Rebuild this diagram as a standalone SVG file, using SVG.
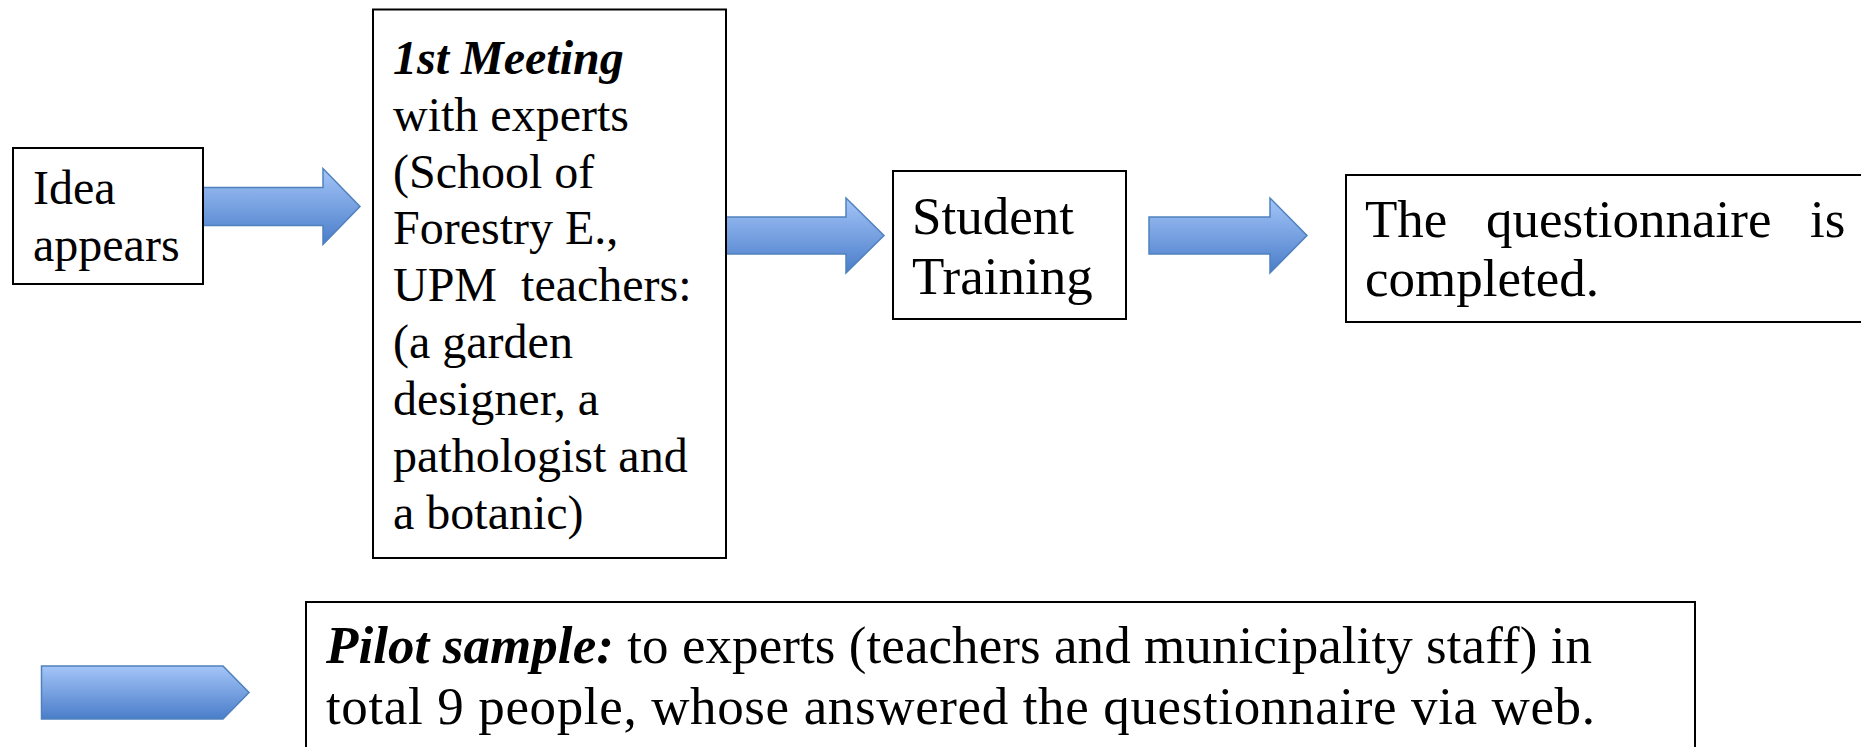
<svg xmlns="http://www.w3.org/2000/svg" width="1861" height="747" viewBox="0 0 1861 747">
<style>
.box{fill:#fff;stroke:#000;stroke-width:2}
.t{font-family:"Liberation Serif","Times New Roman",serif;font-size:48px;fill:#000}
.big{font-size:53px}
.bi{font-weight:bold;font-style:italic}
.arr{fill:url(#g);stroke:#4f81bd;stroke-width:1.5}
</style>
<defs>
<linearGradient id="g" x1="0" y1="0" x2="0" y2="1">
<stop offset="0" stop-color="#a4c5f8"/>
<stop offset="1" stop-color="#4a7dc9"/>
</linearGradient>
</defs>
<g id="connectors">
<path class="arr" d="M203,187.5 H323 V168.5 L360,206.5 L323,244.5 V225.5 H203 Z"/>
<path class="arr" d="M726,217 H846 V198 L884,235.5 L846,273 V254 H726 Z"/>
<path class="arr" d="M1149,217 H1270 V198 L1307,235.5 L1270,273 V254 H1149 Z"/>
<path class="arr" d="M41.5,666 H223 L249,692.5 L223,719 H41.5 Z"/>
</g>
<g id="idea">
<rect class="box" x="13" y="148" width="190" height="136"/>
<text class="t" x="33" y="204">Idea</text>
<text class="t" x="33" y="261">appears</text>
</g>
<g id="meeting">
<rect class="box" x="373" y="9.5" width="353" height="548.5"/>
<text class="t" x="393"><tspan class="bi" x="393" y="73.5">1st Meeting</tspan><tspan x="393" y="130.5">with experts</tspan><tspan x="393" y="187.5">(School of</tspan><tspan x="393" y="244">Forestry E.,</tspan><tspan x="393" y="301" xml:space="preserve">UPM  teachers:</tspan><tspan x="393" y="358">(a garden</tspan><tspan x="393" y="415">designer, a</tspan><tspan x="393" y="472">pathologist and</tspan><tspan x="393" y="528.5">a botanic)</tspan></text>
</g>
<g id="student">
<rect class="box" x="893" y="171" width="233" height="148"/>
<text class="t big" x="912" y="234">Student</text>
<text class="t big" x="912" y="294">Training</text>
</g>
<g id="questionnaire">
<rect class="box" x="1346" y="175" width="530" height="147"/>
<text class="t big" y="237"><tspan x="1365">The</tspan><tspan x="1486">questionnaire</tspan><tspan x="1810">is</tspan></text>
<text class="t big" x="1365" y="296">completed.</text>
</g>
<g id="pilot">
<rect class="box" x="306" y="602" width="1389" height="160"/>
<text class="t big" x="326" y="663" textLength="1266" lengthAdjust="spacing"><tspan class="bi">Pilot sample:</tspan> to experts (teachers and municipality staff) in</text>
<text class="t big" x="326" y="724" textLength="1269" lengthAdjust="spacing">total 9 people, whose answered the questionnaire via web.</text>
</g>
</svg>
